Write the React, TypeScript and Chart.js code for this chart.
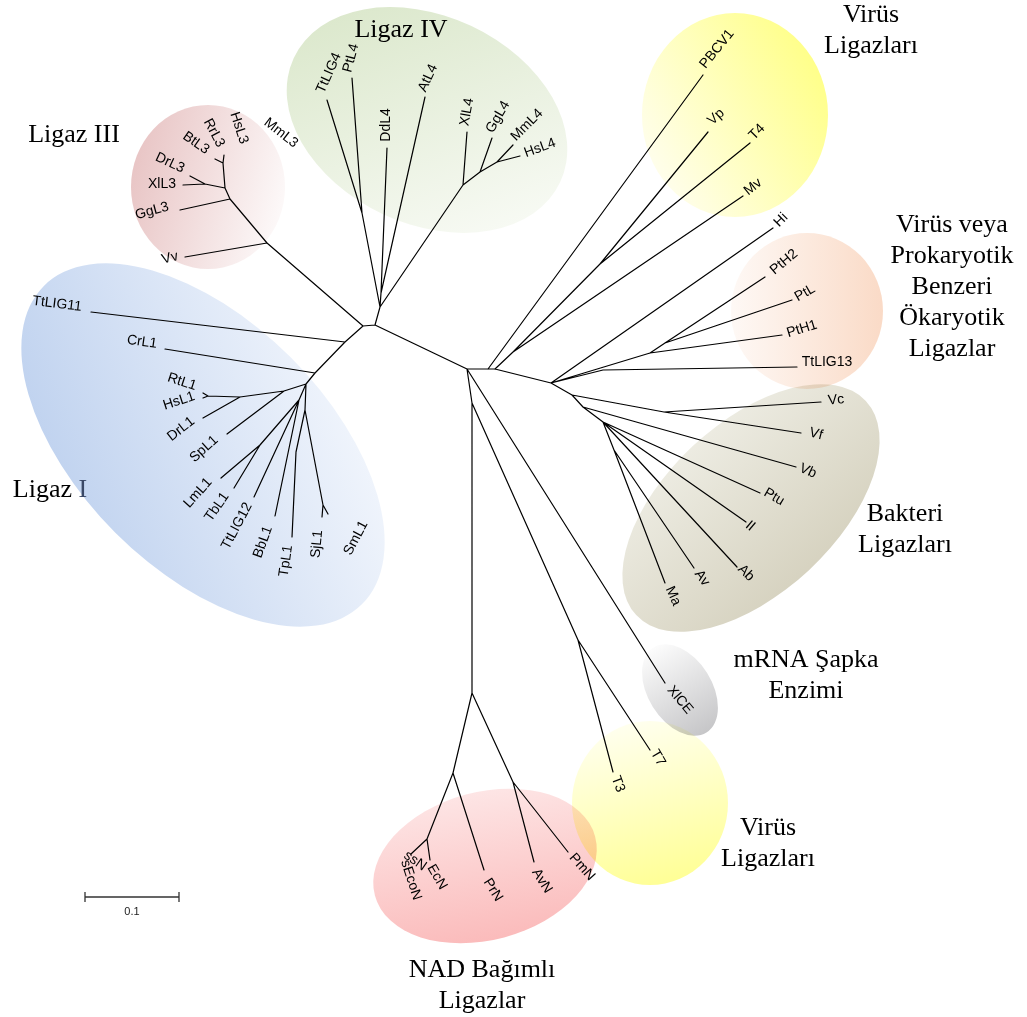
import { useEffect, useRef } from 'react';
import { Chart, registerables } from 'chart.js';

Chart.register(...registerables);

const W = 1027;
const H = 1017;

// Tree nodes: [id, x, y, parent]  (layout coordinates of the unrooted tree)
const treeNodes: [string, number, number, string | null][] = [
  ['B', 375, 325, null],
  ['A', 363, 326, 'B'],
  ['L4', 380, 307, 'B'],
  ['R1', 467, 369, 'B'],
  // Ligaz III
  ['L3a', 267, 243, 'A'],
  ['Vv', 185, 257, 'L3a'],
  ['L3b', 230, 199, 'L3a'],
  ['GgL3', 180, 210, 'L3b'],
  ['L3c', 225, 188, 'L3b'],
  ['L3d', 205, 184, 'L3c'],
  ['XlL3', 183, 185, 'L3d'],
  ['DrL3', 190, 176, 'L3d'],
  ['L3e', 223, 163, 'L3c'],
  ['HsL3', 224, 155, 'L3e'],
  ['RrL3', 215, 159, 'L3e'],
  // Ligaz IV
  ['L4a', 362, 213, 'L4'],
  ['TtLIG4', 327, 100, 'L4a'],
  ['PtL4', 352, 78, 'L4a'],
  ['L4b', 381, 293, 'L4'],
  ['DdL4', 387, 148, 'L4b'],
  ['AtL4', 425, 97, 'L4b'],
  ['X4', 463, 185, 'L4'],
  ['XlL4', 467, 132, 'X4'],
  ['G4', 480, 172, 'X4'],
  ['GgL4', 492, 138, 'G4'],
  ['M4', 497, 162, 'G4'],
  ['MmL4', 513, 145, 'M4'],
  ['HsL4', 520, 156, 'M4'],
  // Ligaz I
  ['L1a', 345, 342, 'A'],
  ['TtLIG11', 91, 312, 'L1a'],
  ['L1b', 315, 373, 'L1a'],
  ['CrL1', 165, 349, 'L1b'],
  ['L1h', 306, 384, 'L1b'],
  ['S', 284, 391, 'L1h'],
  ['SpL1', 227, 434, 'S'],
  ['Hn', 240, 397, 'S'],
  ['DrL1', 203, 418, 'Hn'],
  ['RH', 208, 396, 'Hn'],
  ['RtL1', 203, 393, 'RH'],
  ['HsL1', 203, 398, 'RH'],
  ['n2', 299, 400, 'L1h'],
  ['LT', 260, 445, 'n2'],
  ['LmL1', 221, 478, 'LT'],
  ['TbL1', 234, 488, 'LT'],
  ['TtLIG12', 254, 497, 'n2'],
  ['BbL1', 275, 516, 'n2'],
  ['n3', 305, 410, 'L1h'],
  ['n4', 296, 452, 'n3'],
  ['TpL1', 292, 537, 'n4'],
  ['SS', 323, 505, 'n3'],
  ['SjL1', 322, 517, 'SS'],
  ['SmL1', 328, 514, 'SS'],
  // viral / eukaryotic-like
  ['R2', 488, 369, 'R1'],
  ['PBCV1', 703, 75, 'R2'],
  ['R3', 495, 369, 'R2'],
  ['Q', 513, 352, 'R3'],
  ['VT', 600, 264, 'Q'],
  ['Vp', 708, 132, 'VT'],
  ['T4', 750, 143, 'VT'],
  ['Mv', 743, 196, 'Q'],
  ['P', 551, 383, 'R3'],
  ['Hi', 773, 228, 'P'],
  ['Pt0', 603, 370, 'P'],
  ['TtLIG13', 797, 367, 'Pt0'],
  ['Pt1', 650, 353, 'P'],
  ['PtH1', 782, 335, 'Pt1'],
  ['Pt2', 665, 343, 'Pt1'],
  ['PtH2', 765, 277, 'Pt2'],
  ['PtL', 792, 300, 'Pt2'],
  // bacteria
  ['B0', 572, 395, 'P'],
  ['VV', 664, 412, 'B0'],
  ['Vc', 821, 402, 'VV'],
  ['Vf', 801, 433, 'VV'],
  ['B1', 583, 407, 'B0'],
  ['Vb', 796, 467, 'B1'],
  ['B2', 603, 422, 'B1'],
  ['Ptu', 760, 493, 'B2'],
  ['Il', 746, 522, 'B2'],
  ['Ab', 737, 567, 'B2'],
  ['B3', 614, 450, 'B2'],
  ['Av', 694, 568, 'B3'],
  ['Ma', 665, 583, 'B3'],
  // lower part
  ['XlCE', 665, 683, 'R1'],
  ['N0', 472, 403, 'R1'],
  ['T37', 578, 640, 'N0'],
  ['T3', 613, 772, 'T37'],
  ['T7', 650, 750, 'T37'],
  ['N1', 472, 693, 'N0'],
  ['N2', 453, 773, 'N1'],
  ['N4', 427, 839, 'N2'],
  ['ssN', 411, 854, 'N4'],
  ['EcN', 430, 860, 'N4'],
  ['PrN', 484, 870, 'N2'],
  ['N3', 513, 782, 'N1'],
  ['AvN', 534, 862, 'N3'],
  ['PmN', 568, 852, 'N3'],
];

// Leaf labels: [text, x, y, angle in degrees]
const leafLabels: [string, number, number, number][] = [
  ['HsL3', 239, 128, 72], ['RrL3', 214, 133, 62], ['BtL3', 196, 143, 35], ['DrL3', 170, 163, 25],
  ['XlL3', 162, 184, 0], ['GgL3', 152, 211, -15], ['Vv', 170, 258, -15], ['MmL3', 281, 133, 38],
  ['TtLIG4', 329, 73, -66], ['PtL4', 351, 58, -75], ['DdL4', 386, 125, -90], ['AtL4', 428, 78, -65],
  ['XlL4', 467, 112, -80], ['GgL4', 498, 117, -60], ['MmL4', 527, 125, -45], ['HsL4', 540, 148, -20],
  ['TtLIG11', 57, 304, 7], ['CrL1', 142, 342, 8], ['RtL1', 182, 382, 18], ['HsL1', 179, 401, -18],
  ['DrL1', 181, 429, -38], ['SpL1', 204, 449, -42], ['LmL1', 198, 493, -48], ['TbL1', 217, 507, -55],
  ['TtLIG12', 237, 526, -62], ['BbL1', 263, 542, -70], ['TpL1', 286, 561, -82], ['SjL1', 317, 544, -85],
  ['SmL1', 356, 538, -62],
  ['PBCV1', 717, 49, -51], ['Vp', 716, 117, -42], ['T4', 757, 132, -45], ['Mv', 753, 187, -39],
  ['Hi', 781, 220, -45], ['PtH2', 784, 262, -40], ['PtL', 805, 293, -30], ['PtH1', 802, 329, -17],
  ['TtLIG13', 827, 362, 0],
  ['Vc', 836, 400, -5], ['Vf', 816, 434, 15], ['Vb', 808, 471, 25], ['Ptu', 774, 497, 30],
  ['Il', 750, 526, 40], ['Ab', 746, 573, 45], ['Av', 702, 578, 55], ['Ma', 673, 596, 65],
  ['XlCE', 680, 700, 50], ['T7', 658, 758, 60], ['T3', 618, 784, 70],
  ['PmN', 582, 867, 48], ['AvN', 542, 881, 58], ['PrN', 493, 890, 58], ['EcN', 437, 877, 60],
  ['ssN', 415, 861, 35], ['sEcoN', 411, 880, 72],
];

// Group captions: lines and centre of first line
const groupLines: string[][] = [
  ['Ligaz III'],
  ['Ligaz IV'],
  ['Virüs', 'Ligazları'],
  ['Virüs veya', 'Prokaryotik', 'Benzeri', 'Ökaryotik', 'Ligazlar'],
  ['Ligaz I'],
  ['Bakteri', 'Ligazları'],
  ['mRNA Şapka', 'Enzimi'],
  ['Virüs', 'Ligazları'],
  ['NAD Bağımlı', 'Ligazlar'],
];
const groupAnchors: [number, number][] = [
  [74, 135], [401, 30], [871, 15], [952, 225], [50, 490], [905, 514], [806, 660], [768, 828], [482, 970],
];

// Clade regions: [cx, cy, rx, ry, rotation deg]
const regions: [number, number, number, number, number][] = [
  [208, 187, 77, 82, 0],
  [427, 120, 147, 104, 25],
  [203, 445, 225, 124, 45],
  [735, 115, 93, 102, 0],
  [807, 311, 76, 78, 0],
  [751, 508, 157, 85, -43],
  [680, 690, 50, 32, 58],
  [485, 866, 114, 74, -15],
  [650, 803, 78, 82, 0],
];
// Region fills: [gradient angle, colour start, colour end]
const regionFills: [number, string, string][] = [
  [15, 'rgb(232,196,196)', 'rgb(253,250,250)'],
  [70, 'rgb(218,231,202)', 'rgb(249,251,246)'],
  [-22, 'rgb(180,202,236)', 'rgb(252,253,255)'],
  [-30, 'rgb(255,254,238)', 'rgb(255,255,135)'],
  [0, 'rgb(254,249,246)', 'rgb(250,218,198)'],
  [47, 'rgb(246,246,240)', 'rgb(205,200,178)'],
  [58, 'rgb(252,252,252)', 'rgb(198,198,200)'],
  [80, 'rgb(254,240,240)', 'rgb(250,176,176)'],
  [75, 'rgb(255,255,238)', 'rgb(255,255,150)'],
];

// Scale bar: value 0.1, start point, layout units per branch-length unit
const scaleBarValue = 0.1;
const scaleBarStart: [number, number] = [85, 897];
const unitsToLayout = 940;

function buildEdges() {
  const byId = new Map(treeNodes.map((n) => [n[0], n]));
  const pts: { x: number | null; y: number | null }[] = [];
  for (const [, nx, ny, p] of treeNodes) {
    if (!p) continue;
    const q = byId.get(p)!;
    pts.push({ x: q[1], y: q[2] }, { x: nx, y: ny }, { x: null, y: null });
  }
  return pts;
}

function buildScaleBar() {
  const [x0, y0] = scaleBarStart;
  const x1 = x0 + scaleBarValue * unitsToLayout;
  return [
    { x: x0, y: y0 }, { x: x1, y: y0 }, { x: null, y: null },
    { x: x0, y: y0 - 5 }, { x: x0, y: y0 + 5 }, { x: null, y: null },
    { x: x1, y: y0 - 5 }, { x: x1, y: y0 + 5 },
  ];
}

const phyloPlugin = {
  id: 'phylo',
  beforeDatasetsDraw(chart: any) {
    const { ctx } = chart;
    const xs = chart.scales.x;
    const ys = chart.scales.y;
    ctx.save();
    ctx.fillStyle = '#ffffff';
    ctx.fillRect(0, 0, chart.width, chart.height);
    ctx.globalCompositeOperation = 'multiply';
    regions.forEach((r, i) => {
      const [cx, cy, rx, ry, rot] = r;
      const px = xs.getPixelForValue(cx);
      const py = ys.getPixelForValue(cy);
      const sx = Math.abs(xs.getPixelForValue(cx + rx) - px);
      const sy = Math.abs(ys.getPixelForValue(cy + ry) - py);
      const [ga, c1, c2] = regionFills[i];
      const d = Math.max(sx, sy);
      const a = (ga * Math.PI) / 180;
      const g = ctx.createLinearGradient(px - d * Math.cos(a), py - d * Math.sin(a), px + d * Math.cos(a), py + d * Math.sin(a));
      g.addColorStop(0, c1);
      g.addColorStop(1, c2);
      ctx.beginPath();
      ctx.ellipse(px, py, sx, sy, (rot * Math.PI) / 180, 0, Math.PI * 2);
      ctx.fillStyle = g;
      ctx.fill();
    });
    ctx.restore();
  },
  afterDatasetsDraw(chart: any) {
    const { ctx } = chart;
    const xs = chart.scales.x;
    const ys = chart.scales.y;
    ctx.save();
    ctx.fillStyle = '#000';
    ctx.textAlign = 'center';
    ctx.textBaseline = 'middle';
    ctx.font = "14px 'Liberation Sans', Arial, sans-serif";
    for (const [t, x, y, ang] of leafLabels) {
      ctx.save();
      ctx.translate(xs.getPixelForValue(x), ys.getPixelForValue(y));
      ctx.rotate((ang * Math.PI) / 180);
      ctx.fillText(t, 0, 0);
      ctx.restore();
    }
    // scale bar text
    ctx.font = "11px 'Liberation Sans', Arial, sans-serif";
    const [x0, y0] = scaleBarStart;
    ctx.fillStyle = '#222';
    ctx.fillText(String(scaleBarValue), xs.getPixelForValue(x0 + (scaleBarValue * unitsToLayout) / 2), ys.getPixelForValue(y0 + 15));
    // group captions
    ctx.font = "26px 'Liberation Serif', 'Times New Roman', serif";
    groupLines.forEach((lines, i) => {
      const [gx, gy] = groupAnchors[i];
      lines.forEach((line, j) => {
        const px = xs.getPixelForValue(gx);
        const py = ys.getPixelForValue(gy + j * 31);
        if (line === 'Ligaz I') {
          const w1 = ctx.measureText('Ligaz ').width;
          const w2 = ctx.measureText('I').width;
          const left = px - (w1 + w2) / 2;
          ctx.textAlign = 'left';
          ctx.fillStyle = '#000';
          ctx.fillText('Ligaz ', left, py);
          ctx.fillStyle = '#3a4866';
          ctx.fillText('I', left + w1, py);
          ctx.textAlign = 'center';
          ctx.fillStyle = '#000';
        } else {
          ctx.fillStyle = '#000';
          ctx.fillText(line, px, py);
        }
      });
    });
    ctx.restore();
  },
};

export default function App() {
  const ref = useRef<HTMLCanvasElement | null>(null);
  useEffect(() => {
    if (!ref.current) return;
    const chart = new Chart(ref.current, {
      type: 'scatter',
      data: {
        datasets: [
          {
            data: buildEdges() as any,
            showLine: true,
            borderColor: '#000',
            borderWidth: 1.2,
            borderCapStyle: 'round',
            pointRadius: 0,
            spanGaps: false,
          } as any,
          {
            data: buildScaleBar() as any,
            showLine: true,
            borderColor: '#333',
            borderWidth: 1.3,
            pointRadius: 0,
            spanGaps: false,
          } as any,
        ],
      },
      options: {
        animation: false,
        responsive: false,
        devicePixelRatio: 1,
        events: [],
        layout: { padding: 0 },
        plugins: { legend: { display: false }, tooltip: { enabled: false } },
        scales: {
          x: { type: 'linear', min: 0, max: W, display: false },
          y: { type: 'linear', min: 0, max: H, reverse: true, display: false },
        },
      },
      plugins: [phyloPlugin],
    });
    return () => chart.destroy();
  }, []);
  return (
    <div style={{ position: 'absolute', left: 0, top: 0, width: W, height: H, background: '#fff' }}>
      <canvas ref={ref} width={W} height={H} style={{ display: 'block' }} />
    </div>
  );
}
